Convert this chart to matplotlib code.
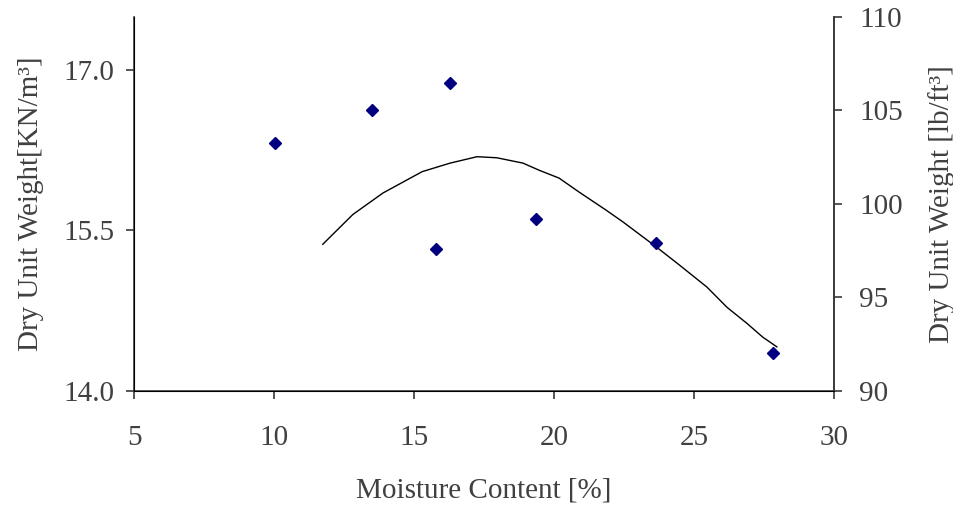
import matplotlib.pyplot as plt

plt.rcParams['font.family'] = ['Liberation Serif', 'DejaVu Serif']

# measured points (moisture %, dry unit weight kN/m3)
moisture = [10.04, 13.51, 16.29, 15.79, 19.36, 23.64, 27.82]
unit_weight = [16.32, 16.63, 16.88, 15.33, 15.61, 15.38, 14.35]

# fitted compaction curve
curve_x = [11.74, 12.82, 13.89, 15.29, 16.29, 17.25, 17.96, 18.89, 19.5, 20.18, 20.89,
           21.86, 22.46, 23.07, 23.68, 24.46, 25.46, 26.18, 26.89, 27.46, 27.96]
curve_y = [15.37, 15.65, 15.85, 16.05, 16.13, 16.19, 16.18, 16.13, 16.06, 15.99, 15.86,
           15.69, 15.58, 15.46, 15.34, 15.18, 14.97, 14.78, 14.63, 14.50, 14.41]

grey = '#3a3a3a'
txt = '#404040'

fig = plt.figure(figsize=(9.54, 5.08), dpi=100)
ax = fig.add_axes([0.1405, 0.231, 0.7337, 0.736])
ax.plot(curve_x, curve_y, color='black', lw=1)
ax.plot(moisture, unit_weight, 'D', color='#000080', ms=6, mec='#000080')

ax.set_xlim(5, 30)
ax.set_ylim(14.0, 17.5)
ax.set_xticks([5, 10, 15, 20, 25, 30])
ax.set_yticks([14.0, 15.5, 17.0])
ax.set_yticklabels(['14.0', '15.5', '17.0'])
ax.spines['top'].set_visible(False)
for s in ['left', 'bottom', 'right']:
    ax.spines[s].set_color(grey)
    ax.spines[s].set_linewidth(1.2)
ax.tick_params(axis='both', direction='out', length=6, width=1.2, color=grey,
               labelsize=21, labelcolor=txt, pad=8)
ax.tick_params(axis='x', pad=19)
ax.set_xlabel('Moisture Content [%]', fontsize=21, color=txt, labelpad=19)
ax.set_ylabel('Dry Unit Weight[KN/m³]', fontsize=21, color=txt, labelpad=14)

ax2 = ax.twinx()
ax2.set_ylim(90, 110)
ax2.set_yticks([90, 95, 100, 105, 110])
ax2.spines['top'].set_visible(False)
ax2.spines['right'].set_color(grey)
ax2.spines['right'].set_linewidth(1.2)
ax2.tick_params(axis='y', direction='out', length=6, width=1.2, color=grey,
                labelsize=21, labelcolor=txt, pad=12)
ax2.set_ylabel('Dry Unit Weight [lb/ft³]', fontsize=21, color=txt, labelpad=18)

fig.savefig('out.png', dpi=100)
